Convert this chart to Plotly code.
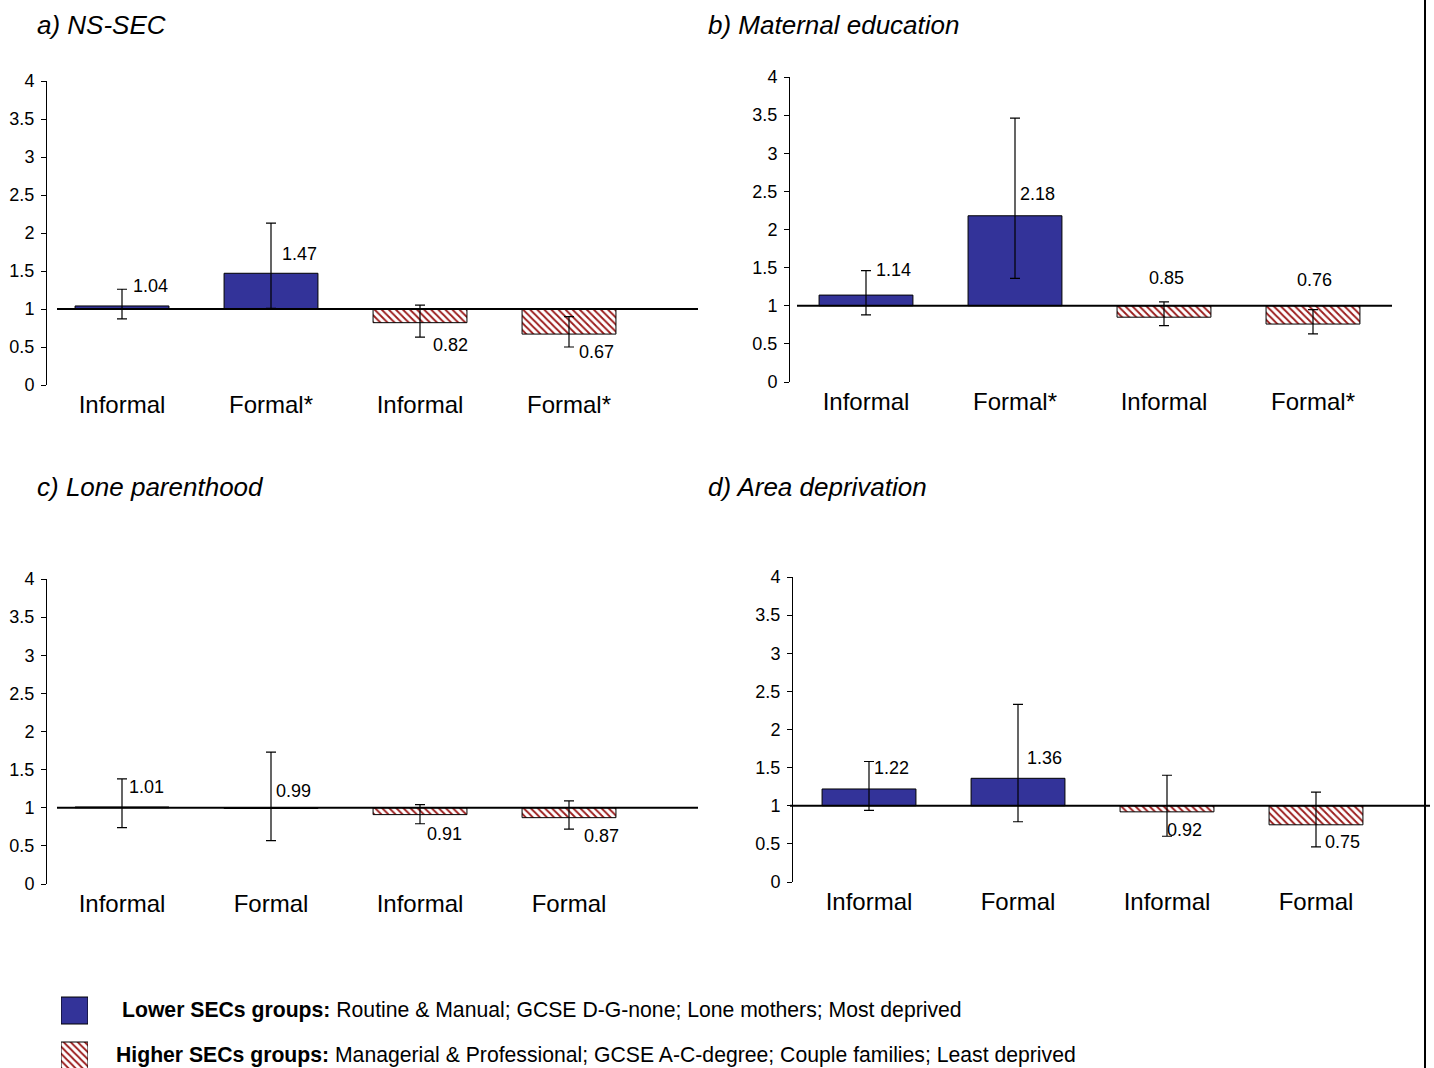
import plotly.graph_objects as go

# ---------------- data ----------------
categories_a = ["Informal", "Formal*", "Informal", "Formal*"]
categories_b = ["Informal", "Formal*", "Informal", "Formal*"]
categories_c = ["Informal", "Formal", "Informal", "Formal"]
categories_d = ["Informal", "Formal", "Informal", "Formal"]

groups = ["Lower", "Lower", "Higher", "Higher"]

values_a = [1.04, 1.47, 0.82, 0.67]
upper_a = [1.26, 2.13, 1.05, 0.90]
lower_a = [0.87, 1.01, 0.63, 0.50]

values_b = [1.14, 2.18, 0.85, 0.76]
upper_b = [1.46, 3.46, 1.05, 0.95]
lower_b = [0.88, 1.36, 0.74, 0.63]

values_c = [1.01, 0.99, 0.91, 0.87]
upper_c = [1.38, 1.73, 1.04, 1.09]
lower_c = [0.74, 0.57, 0.79, 0.72]

values_d = [1.22, 1.36, 0.92, 0.75]
upper_d = [1.58, 2.33, 1.40, 1.18]
lower_d = [0.94, 0.79, 0.60, 0.46]

titles = ["a) NS-SEC", "b) Maternal education", "c) Lone parenthood", "d) Area deprivation"]
y_ticks = [0, 0.5, 1, 1.5, 2, 2.5, 3, 3.5, 4]
reference_value = 1

legend_lower_bold = "Lower SECs groups:"
legend_lower_text = " Routine & Manual; GCSE D-G-none; Lone mothers; Most deprived"
legend_higher_bold = "Higher SECs groups:"
legend_higher_text = " Managerial & Professional; GCSE A-C-degree; Couple families; Least deprived"

# ---------------- layout / style ----------------
W, H = 1434, 1068
FONT = "Liberation Sans, Arial, Helvetica, sans-serif"
BLUE = "#333399"
HATCH = "#9b1c1c"
PX_PER_CAT = 149

panels = [
    dict(cats=categories_a, vals=values_a, up=upper_a, lo=lower_a,
         axis_px=47, right_px=698, c0_px=122, y0_px=385, y4_px=81, base_start=57,
         title_px=(35, 25),
         offs=[(28, 20), (28, 19), (30, -22), (27, -18)]),
    dict(cats=categories_b, vals=values_b, up=upper_b, lo=lower_b,
         axis_px=790, right_px=1392, c0_px=866, y0_px=382, y4_px=77, base_start=797,
         title_px=(706, 25),
         offs=[(27, 25), (22, 22), (2, 39), (1, 44)]),
    dict(cats=categories_c, vals=values_c, up=upper_c, lo=lower_c,
         axis_px=47, right_px=698, c0_px=122, y0_px=884, y4_px=579, base_start=57,
         title_px=(35, 487),
         offs=[(24, 20), (22, 18), (24, -19), (32, -18)]),
    dict(cats=categories_d, vals=values_d, up=upper_d, lo=lower_d,
         axis_px=793, right_px=1430, c0_px=869, y0_px=882, y4_px=577, base_start=790,
         title_px=(706, 487),
         offs=[(22, 21), (26, 20), (17, -18), (26, -17)]),
]


def px_x(p):
    return p / W


def px_y(p):
    return 1 - p / H


fig = go.Figure()
layout_axes = {}
annotations = []
shapes = []

for i, P in enumerate(panels):
    n = i + 1
    xa = "x" if n == 1 else f"x{n}"
    ya = "y" if n == 1 else f"y{n}"
    xkey = "xaxis" if n == 1 else f"xaxis{n}"
    ykey = "yaxis" if n == 1 else f"yaxis{n}"
    xs = list(range(len(P["cats"])))

    colors = [BLUE if g == "Lower" else HATCH for g in groups]
    shapes_pat = ["" if g == "Lower" else "\\" for g in groups]

    fig.add_trace(go.Bar(
        x=xs, y=[v - reference_value for v in P["vals"]], base=reference_value,
        width=0.63, xaxis=xa, yaxis=ya, showlegend=False, hoverinfo="skip",
        marker=dict(color=colors, line=dict(color="black", width=1),
                    pattern=dict(shape=shapes_pat, fillmode="replace", bgcolor="white",
                                 size=5, solidity=0.38)),
    ))
    fig.add_trace(go.Scatter(
        x=xs, y=P["vals"], mode="markers", xaxis=xa, yaxis=ya, showlegend=False,
        marker=dict(size=1, opacity=0), hoverinfo="skip",
        error_y=dict(type="data", symmetric=False,
                     array=[u - v for u, v in zip(P["up"], P["vals"])],
                     arrayminus=[v - l for v, l in zip(P["vals"], P["lo"])],
                     color="black", thickness=1.2, width=5),
    ))

    xr0 = (P["axis_px"] - P["c0_px"]) / PX_PER_CAT
    xr1 = (P["right_px"] - P["c0_px"]) / PX_PER_CAT
    layout_axes[xkey] = dict(
        domain=[px_x(P["axis_px"]), px_x(P["right_px"])], range=[xr0, xr1],
        anchor=ya, showline=False, showgrid=False, zeroline=False,
        tickvals=xs, ticktext=P["cats"], ticks="", ticklabelstandoff=3,
        tickfont=dict(family=FONT, size=24, color="black"), automargin=False,
        fixedrange=True,
    )
    layout_axes[ykey] = dict(
        domain=[px_y(P["y0_px"]), px_y(P["y4_px"])], range=[0, 4],
        anchor=xa, showline=True, linecolor="black", linewidth=1,
        ticks="outside", ticklen=5, tickcolor="black", tickvals=y_ticks,
        ticktext=[f"{t:g}" for t in y_ticks], ticklabelstandoff=3,
        showgrid=False, zeroline=False,
        tickfont=dict(family=FONT, size=18, color="black"), automargin=False,
        fixedrange=True,
    )

    # reference line at 1
    frac0 = (P["base_start"] - P["axis_px"]) / (P["right_px"] - P["axis_px"])
    shapes.append(dict(type="line", xref=f"{xa} domain", yref=ya,
                       x0=frac0, x1=1, y0=reference_value, y1=reference_value,
                       line=dict(color="black", width=2), layer="above"))

    # value labels
    for x, v, (dx, dy) in zip(xs, P["vals"], P["offs"]):
        annotations.append(dict(x=x, y=v, xref=xa, yref=ya, text=f"{v:.2f}",
                                showarrow=False, xshift=dx, yshift=dy,
                                font=dict(family=FONT, size=18, color="black")))

    # panel title
    tx, ty = P["title_px"]
    annotations.append(dict(x=px_x(tx), y=px_y(ty), xref="paper", yref="paper",
                            xanchor="left", yanchor="middle", showarrow=False,
                            text=f"<i>{titles[i]}</i>",
                            font=dict(family=FONT, size=26, color="black")))

# legend swatches (horizontal bars in their own small axis)
fig.add_trace(go.Bar(
    x=[1, 1], y=[1, 0], orientation="h", width=0.6, xaxis="x5", yaxis="y5",
    showlegend=False, hoverinfo="skip",
    marker=dict(color=[BLUE, HATCH], line=dict(color="black", width=1),
                pattern=dict(shape=["", "\\"], fillmode="replace", bgcolor="white",
                             size=5, solidity=0.38)),
))
layout_axes["xaxis5"] = dict(domain=[px_x(61), px_x(88)], range=[0, 1], anchor="y5",
                             visible=False, fixedrange=True)
layout_axes["yaxis5"] = dict(domain=[0, px_y(990)], range=[-0.278, 1.456], anchor="x5",
                             visible=False, fixedrange=True)

annotations.append(dict(x=px_x(120), y=px_y(1010), xref="paper", yref="paper",
                        xanchor="left", yanchor="middle", showarrow=False,
                        text=f"<b>{legend_lower_bold}</b>{legend_lower_text}",
                        font=dict(family=FONT, size=21.2, color="black")))
annotations.append(dict(x=px_x(114), y=px_y(1055), xref="paper", yref="paper",
                        xanchor="left", yanchor="middle", showarrow=False,
                        text=f"<b>{legend_higher_bold}</b>{legend_higher_text}",
                        font=dict(family=FONT, size=21.2, color="black")))

# page border line on the right
shapes.append(dict(type="line", xref="paper", yref="paper", x0=px_x(1425), x1=px_x(1425),
                   y0=0, y1=1, line=dict(color="black", width=2)))

fig.update_layout(
    width=W, height=H, margin=dict(l=0, r=0, t=0, b=0),
    paper_bgcolor="white", plot_bgcolor="white",
    barmode="overlay", showlegend=False,
    annotations=annotations, shapes=shapes,
    font=dict(family=FONT, color="black"),
    **layout_axes,
)

fig.write_html(
    "out.html",
    config={"displayModeBar": False, "staticPlot": True},
    post_script="document.body.style.margin='0';document.body.style.overflow='hidden';",
)
